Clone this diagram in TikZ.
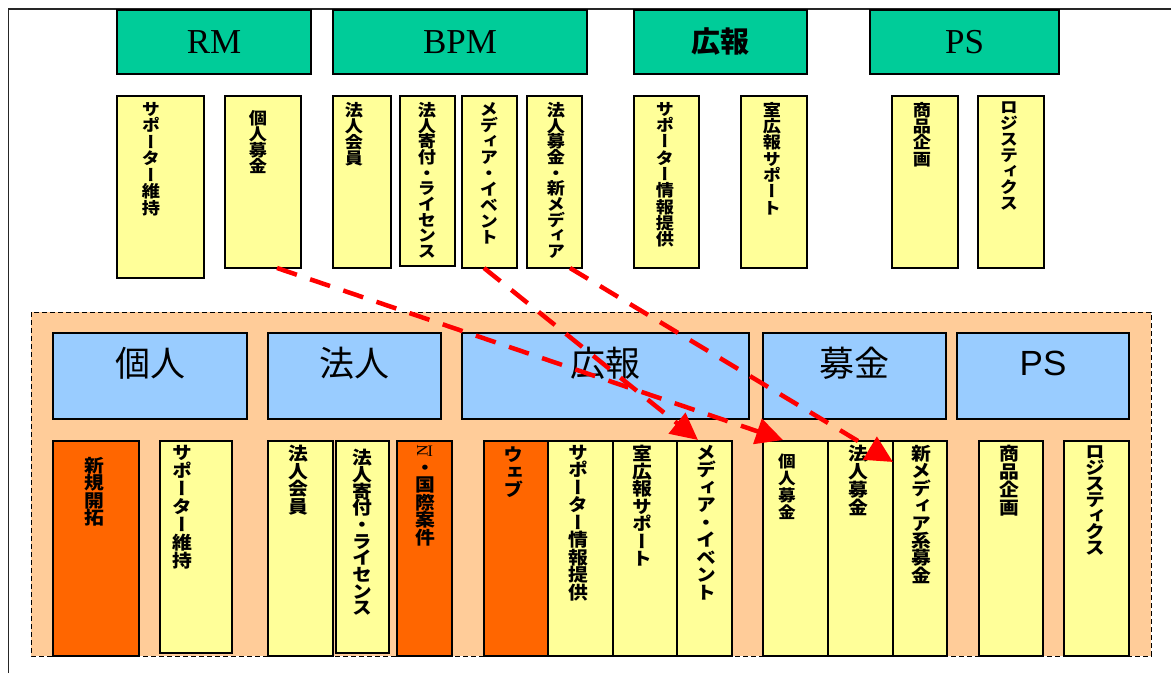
\documentclass[tikz,border=0pt]{standalone}
\usepackage{fontspec}
\usepackage{graphicx}
\usetikzlibrary{arrows.meta}
\setmainfont{Liberation Serif}
\newfontfamily\jp{Noto Sans CJK JP}
\newfontfamily\vjp[RawFeature=+vert, FakeStretch=1.1]{Noto Sans CJK JP}
\newfontfamily\arialf{Liberation Sans}
\definecolor{hgreen}{HTML}{00CC99}
\definecolor{pyellow}{HTML}{FFFF99}
\definecolor{porange}{HTML}{FF6600}
\definecolor{pblue}{HTML}{99CCFF}
\definecolor{peach}{HTML}{FFCC99}
\ExplSyntaxOn
\NewDocumentCommand\vtext{O{16}m}{
  \vbox{
    \baselineskip=#1pt \lineskip=0pt \lineskiplimit=-100pt
    \tl_map_inline:nn {#2} { \hbox_to_wd:nn {1.1em} {\hss ##1 \hss} }
  }
}
\ExplSyntaxOff
\newcommand\mkbox[6]{%
  \pgfmathsetmacro\mybw{#5-#3}\pgfmathsetmacro\mybh{#6-#4}%
  \node[#1, anchor=north west, minimum width=\mybw pt, minimum height=\mybh pt] (#2) at (#3,#4) {};}
\newcommand\vt[6]{%
  \node[#1, anchor=north] (#2) at (#3,#4) {\vtext[#5]{#6}};}
\tikzset{
  base/.style={inner sep=0pt, outer sep=0pt, line width=1.2pt, draw=black},
  hdr/.style={base, fill=hgreen},
  ybox/.style={base, fill=pyellow},
  obox/.style={base, fill=porange},
  bbox/.style={base, fill=pblue},
  vtop/.style={inner sep=0pt, font=\vjp\bfseries\fontsize{16.5}{16.5}\selectfont},
  vbot/.style={inner sep=0pt, font=\vjp\bfseries\fontsize{18}{18}\selectfont},
  vsml/.style={inner sep=0pt, font=\vjp\bfseries\fontsize{16}{16}\selectfont},
  htxt/.style={inner sep=0pt, font=\fontsize{35}{35}\selectfont},
  btxt/.style={inner sep=0pt, font=\jp\fontsize{35}{35}\selectfont},
  arr/.style={draw=red, line width=4.5pt, dash pattern=on 21pt off 14pt,
    -{Triangle[length=27pt,width=26pt]}},
}
\begin{document}
\begin{tikzpicture}[x=1pt,y=-1pt]
\useasboundingbox (0,0) rectangle (1171,673);
\fill[white] (0,0) rectangle (1171,673);
% frame
\draw[black!85, line width=1.5pt] (8.5,673) -- (8.5,9) -- (1171,9);
% headers
\mkbox{hdr}{h_rm}{117}{10}{311}{74}
\mkbox{hdr}{h_bpm}{333}{10}{587}{74}
\mkbox{hdr}{h_koho}{634}{10}{807}{74}
\mkbox{hdr}{h_ps}{870}{10}{1059}{74}
\node[htxt] (h_rm_t) at (h_rm.center) {RM};
\node[htxt] (h_bpm_t) at (h_bpm.center) {BPM};
\node[inner sep=0pt, font=\jp\bfseries\fontsize{29}{29}\selectfont] (h_koho_t) at (h_koho.center) {広報};
\node[htxt] (h_ps_t) at (h_ps.center) {PS};
% top vertical boxes
\mkbox{ybox}{t_sup}{117}{96}{204}{278}
\mkbox{ybox}{t_kojin}{225}{96}{301}{268}
\mkbox{ybox}{t_hkai}{333}{96}{391}{268}
\mkbox{ybox}{t_kifu}{400}{96}{455}{266}
\mkbox{ybox}{t_media}{462}{96}{517}{268}
\mkbox{ybox}{t_hbokin}{527}{96}{582}{268}
\mkbox{ybox}{t_supinfo}{634}{96}{699}{268}
\mkbox{ybox}{t_shitsu}{741}{96}{807}{268}
\mkbox{ybox}{t_shohin}{892}{96}{958}{268}
\mkbox{ybox}{t_logi}{978}{96}{1044}{268}
\vt{vtop}{t_sup_t}{151}{102}{16.5}{サポーター維持}
\vt{vtop}{t_kojin_t}{258}{110}{16}{個人募金}
\vt{vtop}{t_hkai_t}{354}{102}{16}{法人会員}
\vt{vtop}{t_kifu_t}{427}{102}{15.7}{法人寄付・ライセンス}
\vt{vtop}{t_media_t}{489}{102}{16}{メディア・イベント}
\vt{vtop}{t_hbokin_t}{556}{102}{15.7}{法人募金・新メディア}
\vt{vtop}{t_supinfo_t}{665}{102}{16.3}{サポーター情報提供}
\vt{vtop}{t_shitsu_t}{772}{102}{16.3}{室広報サポート}
\vt{vtop}{t_shohin_t}{922}{102}{16.3}{商品企画}
\vt{vtop}{t_logi_t}{1009}{102}{16}{ロジスティクス}
% region
\draw[fill=peach, line width=1pt, dash pattern=on 5pt off 3pt] (31,312) rectangle (1151,656);
% blue boxes
\mkbox{bbox}{b_kojin}{53}{333}{247}{419}
\mkbox{bbox}{b_hojin}{268}{333}{441}{419}
\mkbox{bbox}{b_koho}{462}{333}{749}{419}
\mkbox{bbox}{b_bokin}{763}{333}{946}{419}
\mkbox{bbox}{b_ps}{957}{333}{1129}{419}
\node[btxt] (b_kojin_t) at ([yshift=13pt]b_kojin.center) {個人};
\node[btxt] (b_hojin_t) at ([yshift=13pt]b_hojin.center) {法人};
\node[btxt] (b_koho_t) at ([yshift=13pt]b_koho.center) {広報};
\node[btxt] (b_bokin_t) at ([yshift=13pt]b_bokin.center) {募金};
\node[inner sep=0pt, font=\arialf\fontsize{35}{35}\selectfont] (b_ps_t) at ([yshift=13pt]b_ps.center) {PS};
% bottom boxes
\mkbox{obox}{o_shinki}{53}{441}{139}{656}
\mkbox{ybox}{y_sup}{160}{441}{232}{653}
\mkbox{ybox}{y_hkai}{268}{441}{333}{656}
\mkbox{ybox}{y_kifu}{336}{441}{389}{653}
\mkbox{obox}{o_ni}{397}{441}{452}{656}
\mkbox{obox}{o_web}{484}{441}{548}{656}
\mkbox{ybox}{y_supinfo}{548}{441}{613}{656}
\mkbox{ybox}{y_shitsu}{613}{441}{677}{656}
\mkbox{ybox}{y_media}{677}{441}{732}{656}
\mkbox{ybox}{y_kojin}{763}{441}{828}{656}
\mkbox{ybox}{y_hbokin}{828}{441}{893}{656}
\mkbox{ybox}{y_shinmedia}{893}{441}{947}{656}
\mkbox{ybox}{y_shohin}{979}{441}{1043}{656}
\mkbox{ybox}{y_logi}{1064}{441}{1129}{656}
\vt{vbot}{o_shinki_t}{94}{457}{17.5}{新規開拓}
\vt{vbot}{y_sup_t}{182}{445}{18}{サポーター維持}
\vt{vbot}{y_hkai_t}{298}{445}{17.5}{法人会員}
\vt{vbot}{y_kifu_t}{362}{449}{16.7}{法人寄付・ライセンス}
\vt{vbot}{o_ni_t}{425}{445}{17.5}{{\rmfamily\mdseries\fontsize{16}{16}\selectfont\rotatebox{90}{N}I}・国際案件}
\vt{vbot}{o_web_t}{513}{447}{17.5}{ウェブ}
\vt{vbot}{y_supinfo_t}{578}{445}{17.5}{サポーター情報提供}
\vt{vbot}{y_shitsu_t}{642}{445}{17.5}{室広報サポート}
\vt{vbot}{y_media_t}{706}{445}{17.5}{メディア・イベント}
\vt{vsml}{y_kojin_t}{787}{454}{17}{個人募金}
\vt{vbot}{y_hbokin_t}{858}{445}{18}{法人募金}
\vt{vbot}{y_shinmedia_t}{921}{445}{17.4}{新メディア系募金}
\vt{vbot}{y_shohin_t}{1009}{445}{18}{商品企画}
\vt{vbot}{y_logi_t}{1095}{445}{16}{ロジスティクス}
% arrows
\draw[arr] ([xshift=14pt]t_kojin.south) -- ([xshift=20pt,yshift=1pt]y_kojin.north west);
\draw[arr] ([xshift=-5.5pt]t_media.south) -- ([xshift=21pt,yshift=1pt]y_media.north west);
\draw[arr] ([xshift=15.5pt]t_hbokin.south) -- ([yshift=-21pt]y_shinmedia.north west);
\end{tikzpicture}
\end{document}
